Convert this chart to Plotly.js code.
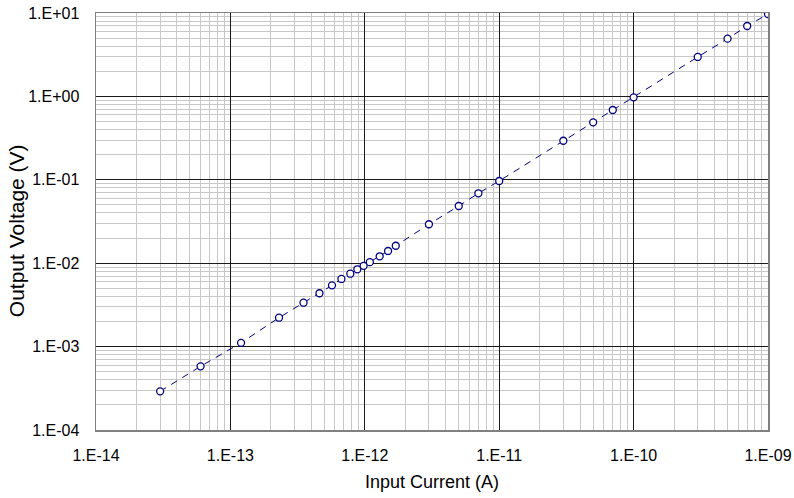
<!DOCTYPE html>
<html>
<head>
<meta charset="utf-8">
<script src="https://cdn.plot.ly/plotly-3.0.1.min.js"></script>
<style>
  html, body { margin: 0; padding: 0; background: #fff; }
  #chart { width: 794px; height: 498px; }
</style>
</head>
<body>
<div id="chart"></div>
<script>
// Measured transfer characteristic: input current (A) vs. output voltage (V)
const inputCurrent = [
  3.0e-14, 6.0e-14, 1.2e-13, 2.3e-13, 3.5e-13, 4.6e-13, 5.7e-13, 6.7e-13,
  7.8e-13, 8.8e-13, 9.8e-13, 1.09e-12, 1.29e-12, 1.49e-12, 1.7e-12,
  3.0e-12, 5.0e-12, 7.0e-12, 1.0e-11, 3.0e-11, 5.0e-11, 7.0e-11,
  1.0e-10, 3.0e-10, 5.0e-10, 7.0e-10, 1.0e-9
];
const outputVoltage = [
  2.91e-4, 5.8e-4, 1.11e-3, 2.22e-3, 3.36e-3, 4.36e-3, 5.43e-3, 6.47e-3,
  7.48e-3, 8.45e-3, 9.3e-3, 1.03e-2, 1.21e-2, 1.40e-2, 1.62e-2,
  2.93e-2, 4.85e-2, 6.89e-2, 9.68e-2, 0.294, 0.489, 0.687,
  0.975, 2.97, 4.92, 6.98, 9.73
];

// Decade tick positions and their labels
const xTickVals = [1e-14, 1e-13, 1e-12, 1e-11, 1e-10, 1e-9];
const xTickText = ["1.E-14", "1.E-13", "1.E-12", "1.E-11", "1.E-10", "1.E-09"];
const yTickVals = [1e-4, 1e-3, 1e-2, 1e-1, 1e0, 1e1];
const yTickText = ["1.E-04", "1.E-03", "1.E-02", "1.E-01", "1.E+00", "1.E+01"];

// Intermediate grid lines at 2..9 within each decade
function subDecades(lo, hi) {
  const out = [];
  for (let e = lo; e < hi; e++) {
    for (let m = 2; m <= 9; m++) out.push(m * Math.pow(10, e));
  }
  return out;
}

const family = "Liberation Sans, Arial, sans-serif";
const tickFont = { family: family, size: 16, color: "#000" };

const trace = {
  x: inputCurrent,
  y: outputVoltage,
  type: "scatter",
  mode: "lines+markers",
  line: { color: "#000080", width: 1, dash: "7px,6px" },
  marker: {
    symbol: "circle",
    size: 7,
    color: "#ffffff",
    line: { color: "#000080", width: 1.3 }
  },
  hoverinfo: "skip",
  showlegend: false
};

const commonAxis = {
  type: "log",
  showgrid: true,
  gridcolor: "#1a1a1a",
  gridwidth: 1,
  showline: true,
  linecolor: "#808080",
  linewidth: 1.5,
  mirror: true,
  zeroline: false,
  tickmode: "array",
  ticks: "outside",
  tickcolor: "rgba(0,0,0,0)",
  tickfont: tickFont
};

const layout = {
  width: 794,
  height: 498,
  margin: { l: 96, r: 26, t: 13, b: 68 },
  paper_bgcolor: "#ffffff",
  plot_bgcolor: "#ffffff",
  font: tickFont,
  xaxis: Object.assign({}, commonAxis, {
    range: [-14, -9],
    tickvals: xTickVals,
    ticktext: xTickText,
    ticklen: 10,
    minor: {
      tickmode: "array",
      tickvals: subDecades(-14, -9),
      showgrid: true,
      gridcolor: "#c8c8c8",
      gridwidth: 1,
      ticks: ""
    },
    title: { text: "Input Current (A)", font: { family: family, size: 18, color: "#000" }, standoff: 12 }
  }),
  yaxis: Object.assign({}, commonAxis, {
    range: [-4, 1],
    tickvals: yTickVals,
    ticktext: yTickText,
    ticklen: 12,
    minor: {
      tickmode: "array",
      tickvals: subDecades(-4, 1),
      showgrid: true,
      gridcolor: "#c8c8c8",
      gridwidth: 1,
      ticks: ""
    }
  }),
  // Vertical axis caption, set slightly below the plot's mid-height
  annotations: [{
    text: "Output Voltage (V)",
    textangle: -90,
    xref: "paper",
    yref: "paper",
    x: 0,
    y: 0.478,
    xanchor: "center",
    yanchor: "middle",
    xshift: -79.5,
    showarrow: false,
    font: { family: family, size: 21, color: "#000" }
  }]
};

Plotly.newPlot("chart", [trace], layout, { displayModeBar: false, staticPlot: true });
</script>
</body>
</html>
